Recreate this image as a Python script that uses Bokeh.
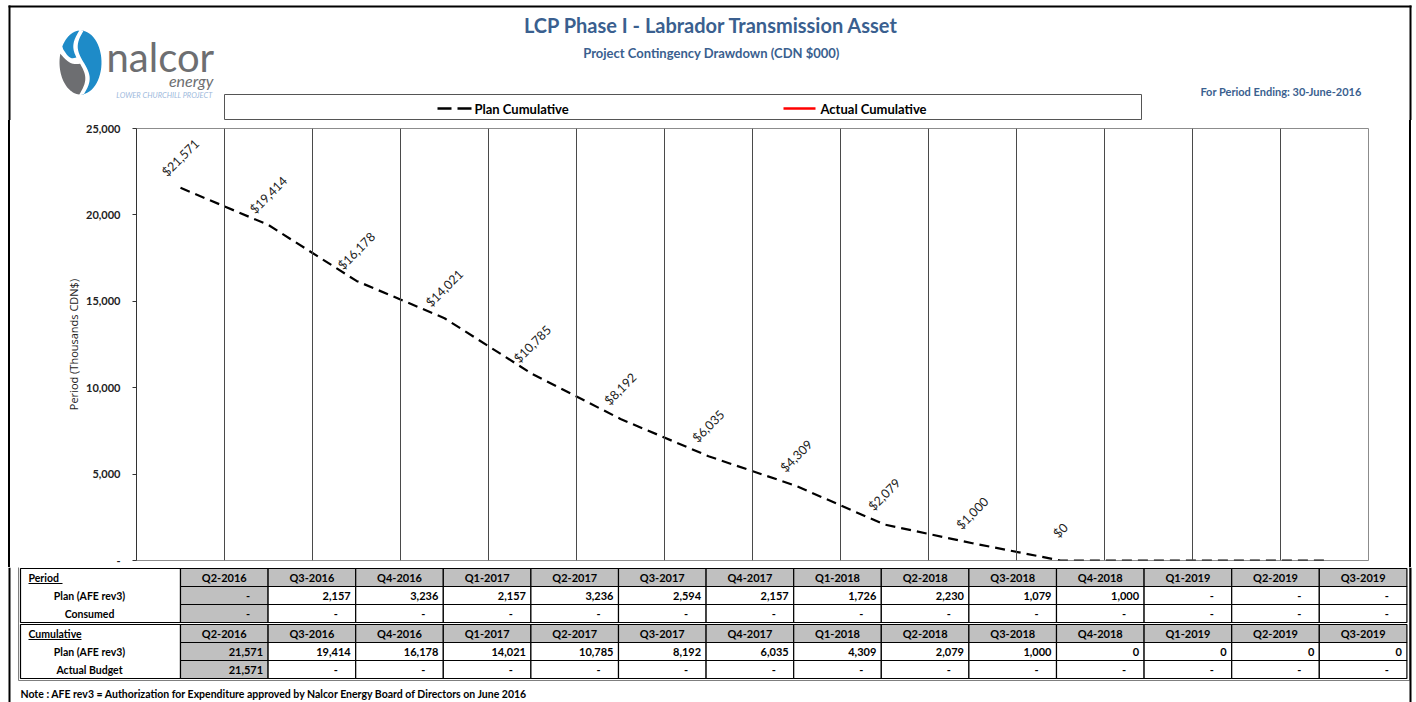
import numpy as np
from math import pi
from bokeh.plotting import figure
from bokeh.models import (FactorRange, Range1d, FixedTicker, NumeralTickFormatter, Span)
from bokeh.layouts import column
from bokeh.embed import file_html
from bokeh.resources import INLINE
from bokeh.core.properties import value

# ---------------- data ----------------
quarters = ["Q2-2016", "Q3-2016", "Q4-2016", "Q1-2017", "Q2-2017", "Q3-2017", "Q4-2017",
            "Q1-2018", "Q2-2018", "Q3-2018", "Q4-2018", "Q1-2019", "Q2-2019", "Q3-2019"]
plan_period = [None, 2157, 3236, 2157, 3236, 2594, 2157, 1726, 2230, 1079, 1000, None, None, None]
consumed_period = [None] * 14
plan_cumulative = [21571, 19414, 16178, 14021, 10785, 8192, 6035, 4309, 2079, 1000, 0, 0, 0, 0]
actual_cumulative = [21571] + [None] * 13
labelled_points = 11
y_ticks = [0, 5000, 10000, 15000, 20000, 25000]

title_text = "LCP Phase I - Labrador Transmission Asset"
subtitle_text = "Project Contingency Drawdown (CDN $000)"
period_text = "For Period Ending: 30-June-2016"
y_label = "Period (Thousands CDN$)"
legend_labels = ["Plan Cumulative", "Actual Cumulative"]
row_labels = ["Period", "Plan (AFE rev3)", "Consumed", "Cumulative", "Plan (AFE rev3)", "Actual Budget"]
note_text = ("Note : AFE rev3 = Authorization for Expenditure approved by Nalcor Energy "
             "Board of Directors on June 2016")

# ---------------- style ----------------
W = 1416
H_HEAD = 120
H_CHART = 447
H_TABLE = 135
FONT = "Lato"
TITLE_BLUE = "#3A5F8F"
LOGO_BLUE = "#1E8BC8"
LOGO_GRAY = "#6D6E71"


def pixel_fig(h, y_top):
    f = figure(width=W, height=h, x_range=Range1d(0, W), y_range=Range1d(y_top + h, y_top),
               output_backend="svg", toolbar_location=None, x_axis_location=None,
               y_axis_location=None, min_border=0, frame_align=False)
    f.grid.visible = False
    f.outline_line_color = None
    f.background_fill_color = "white"
    f.border_fill_color = "white"
    return f


def txt(f, x, y, s, size, style="bold", color="black", align="left", baseline="middle",
        font=FONT, angle=0):
    f.text(x=[x], y=[y], text=[s], text_font=value(font), text_font_size=size,
           text_font_style=style, text_color=color, text_align=align,
           text_baseline=baseline, angle=angle)


# ---------------- header ----------------
hd = pixel_fig(H_HEAD, 0)
hd.quad(left=[8, 8, 1409], right=[1411, 10, 1411], top=[5, 5, 5], bottom=[7, H_HEAD, H_HEAD],
        fill_color="black", line_color=None)
txt(hd, 711, 24, title_text, "20px", color=TITLE_BLUE, align="center")
txt(hd, 711, 52, subtitle_text, "13px", color=TITLE_BLUE, align="center")
txt(hd, 1361, 91, period_text, "11px", color=TITLE_BLUE, align="right")

# legend
hd.quad(left=[224], right=[1141], top=[94], bottom=[119], fill_color="white",
        line_color="#555555", line_width=1)
hd.segment(x0=[437], x1=[471], y0=[108], y1=[108], line_color="black", line_width=2.5,
           line_dash="14 6")
hd.segment(x0=[783], x1=[815], y0=[108], y1=[108], line_color="red", line_width=2.5)
txt(hd, 474, 108, legend_labels[0], "13px")
txt(hd, 820, 108, legend_labels[1], "13px")

# logo (decorative)
cx, cy, rx, ry = 80, 62, 21, 32


def ell(a0, a1, k=30):
    a = np.radians(np.linspace(a0, a1, k))
    return list(cx + rx * np.cos(a)), list(cy + ry * np.sin(a))


def curve_a(t0, t1, shift, k=30):
    t = np.linspace(t0, t1, k)
    return list(cx + 1 + shift - 6 * np.sin(2 * pi * t)), list(cy - ry + 2 * ry * t)


# right blue band
ex, ey = ell(-90, 90)
ax_, ay_ = curve_a(1, 0, 2.2)
hd.patch(x=ex + ax_, y=ey + ay_, fill_color=LOGO_BLUE, line_color=None)
# upper-left blue band
ex, ey = ell(210, 270)
ax_, ay_ = curve_a(0, 0.42, -2.2)
bx = list(np.linspace(ax_[-1], cx - rx * np.cos(np.radians(30)) + 1, 12))
by = list(np.linspace(ay_[-1], cy - ry * np.sin(np.radians(30)) + 3, 12) +
          4 * np.sin(np.linspace(0, pi, 12)))
hd.patch(x=ex + ax_ + bx, y=ey + ay_ + by, fill_color=LOGO_BLUE, line_color=None)
# lower-left gray band
ex, ey = ell(90, 196)
gx0, gy0 = ex[-1], ey[-1]
ax_, ay_ = curve_a(0.52, 1, -2.2)
gx = list(np.linspace(gx0, ax_[0], 12))
gy = list(np.linspace(gy0, ay_[0], 12) + 4 * np.sin(np.linspace(0, pi, 12)))
hd.patch(x=ex + gx + ax_, y=ey + gy + ay_, fill_color=LOGO_GRAY, line_color=None)

txt(hd, 106, 56, "nalcor", "40px", style="normal", color=LOGO_GRAY)
txt(hd, 213, 80, "energy", "16px", style="italic", color=LOGO_GRAY, align="right")
txt(hd, 212, 95, "LOWER CHURCHILL PROJECT", "7.5px", style="italic", color="#9DB9DC",
    align="right")

# ---------------- chart ----------------
p = figure(width=W, height=H_CHART, x_range=FactorRange(factors=quarters),
           y_range=Range1d(0, 25000), output_backend="svg", toolbar_location=None,
           x_axis_location=None, min_border_left=136, min_border_right=48,
           min_border_top=8, min_border_bottom=7, frame_align=False)
p.grid.visible = False
p.outline_line_color = "#8c8c8c"
p.background_fill_color = "white"
p.border_fill_alpha = 0
p.styles = {"background": "linear-gradient(to right, #fff 0px, #fff 8px, #000 8px, #000 10px, "
                          "#fff 10px, #fff 1409px, #000 1409px, #000 1411px, #fff 1411px)"}

for i in range(1, len(quarters)):
    p.add_layout(Span(location=i, dimension="height", line_color="#4a4a4a", line_width=1))

p.line(x=quarters, y=plan_cumulative, line_color="black", line_width=2.2, line_dash="10 6")
act_x = [q for q, v in zip(quarters, actual_cumulative) if v is not None]
act_y = [v for v in actual_cumulative if v is not None]
p.line(x=act_x, y=act_y, line_color="red", line_width=2.5)

p.text(x=quarters[:labelled_points], y=plan_cumulative[:labelled_points],
       text=[f"${v:,}" for v in plan_cumulative[:labelled_points]],
       angle=pi / 4, text_align="center", text_baseline="middle", y_offset=-30,
       text_font=value(FONT), text_font_size="12.5px", text_color="#222222")

ax = p.yaxis[0]
ax.ticker = FixedTicker(ticks=y_ticks)
ax.formatter = NumeralTickFormatter(format="0,0")
ax.major_label_overrides = {0: "-"}
ax.axis_label = y_label
ax.axis_label_text_font = "Open Sans"
ax.axis_label_text_font_size = "11px"
ax.axis_label_text_font_style = "normal"
ax.axis_label_text_color = "#222222"
ax.axis_label_standoff = 2
ax.major_label_text_font = FONT
ax.major_label_text_font_size = "11px"
ax.major_label_text_font_style = "bold"
ax.major_label_text_color = "#222222"
ax.major_label_standoff = 12
ax.major_tick_out = 4
ax.major_tick_in = 0
ax.minor_tick_out = 0
ax.minor_tick_in = 0
ax.axis_line_color = "#333333"
ax.major_tick_line_color = "#333333"

# ---------------- table ----------------
T0 = H_HEAD + H_CHART
tb = pixel_fig(H_TABLE, T0)

col_left0, col_w = 180, 87.6
row_top = [568, 586, 604, 624, 642, 660]
row_h = 18
n = len(quarters)
lefts = [col_left0 + i * col_w for i in range(n)]
rights = [l + col_w for l in lefts]
mids = [l + col_w / 2 for l in lefts]

tb.quad(left=[18], right=[1409], top=[566], bottom=[680], fill_color=None,
        line_color="#7f7f7f", line_width=1)
tb.quad(left=[20, 20], right=[180, 180], top=[row_top[0], row_top[3]],
        bottom=[row_top[2] + row_h, row_top[5] + row_h], fill_color="white",
        line_color="black", line_width=1.2)

cl, cr, ct, cb, cf = [], [], [], [], []
for r in range(6):
    for i in range(n):
        cl.append(lefts[i]); cr.append(rights[i])
        ct.append(row_top[r]); cb.append(row_top[r] + row_h)
        cf.append("#C0C0C0" if (r in (0, 3) or i == 0) else "white")
tb.quad(left=cl, right=cr, top=ct, bottom=cb, fill_color=cf, line_color="black",
        line_width=1.2)

for r in (0, 3):
    tb.text(x=mids, y=[row_top[r] + row_h / 2] * n, text=quarters, text_align="center",
            text_baseline="middle", text_font=value(FONT), text_font_size="11px",
            text_font_style="bold", text_color="black")


def draw_row(r, vals):
    nx, ny, nt, dx, dy = [], [], [], [], []
    yc = row_top[r] + row_h / 2
    for i, v in enumerate(vals):
        if v is None:
            dx.append(rights[i] - 20); dy.append(yc)
        else:
            nx.append(rights[i] - 5); ny.append(yc); nt.append(f"{v:,}")
    if nx:
        tb.text(x=nx, y=ny, text=nt, text_align="right", text_baseline="middle",
                text_font=value(FONT), text_font_size="11px", text_font_style="bold",
                text_color="black")
    if dx:
        tb.text(x=dx, y=dy, text=["-"] * len(dx), text_align="center",
                text_baseline="middle", text_font=value(FONT), text_font_size="11px",
                text_font_style="bold", text_color="black")


draw_row(1, plan_period)
draw_row(2, consumed_period)
draw_row(4, plan_cumulative)
draw_row(5, actual_cumulative)

for r, lab in enumerate(row_labels):
    yc = row_top[r] + row_h / 2
    if r in (0, 3):
        txt(tb, 28, yc, lab, "10.5px")
    else:
        txt(tb, 89, yc, lab, "10.5px", align="center")
ul_y = [row_top[0] + row_h / 2 + 6, row_top[3] + row_h / 2 + 6]
tb.segment(x0=[28, 28], x1=[62, 81], y0=ul_y, y1=ul_y, line_color="black", line_width=1)

txt(tb, 20, 693, note_text, "10.5px")

tb.quad(left=[8, 1409], right=[10, 1411], top=[T0, T0], bottom=[T0 + H_TABLE, T0 + H_TABLE],
        fill_color="black", line_color=None)

layout = column(hd, p, tb)
open("out.html", "w").write(file_html(layout, INLINE))
